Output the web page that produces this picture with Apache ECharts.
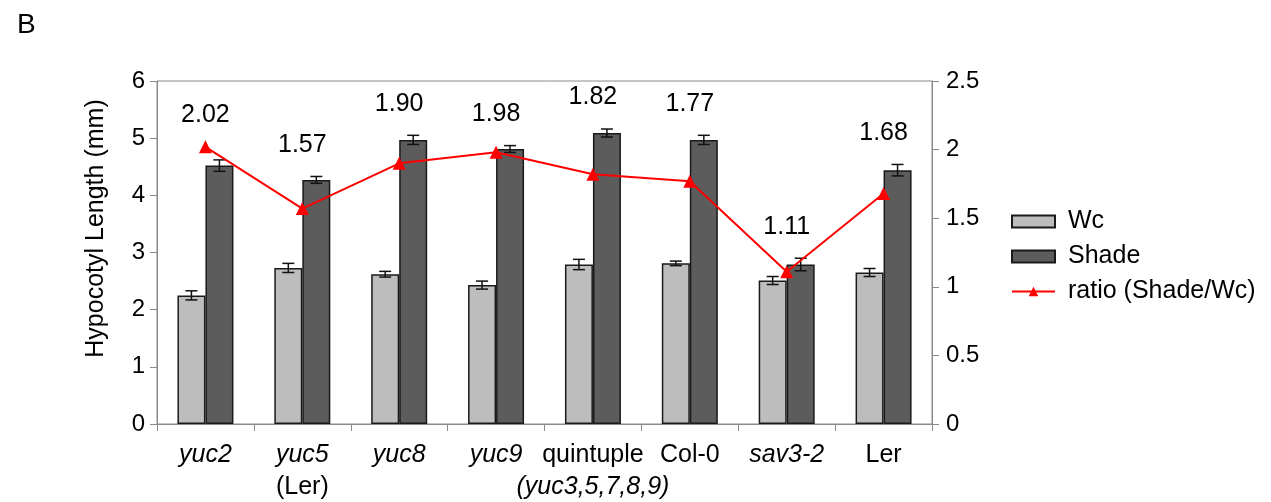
<!DOCTYPE html>
<html>
<head>
<meta charset="utf-8">
<script src="https://cdn.jsdelivr.net/npm/echarts@6/dist/echarts.min.js"></script>
<style>
  html, body { margin: 0; padding: 0; background: #fff; }
  #main { width: 1271px; height: 502px; }
</style>
</head>
<body>
<div id="main"></div>
<script>
// genotypes on the x axis (second line = subtitle)
var categories = ['yuc2', 'yuc5\n(Ler)', 'yuc8', 'yuc9', 'quintuple\n(yuc3,5,7,8,9)', 'Col-0', 'sav3-2', 'Ler'];

// hypocotyl length (mm) and error
var wcValues = [2.25, 2.73, 2.62, 2.43, 2.79, 2.81, 2.51, 2.65];
var wcErrors = [0.08, 0.08, 0.05, 0.07, 0.09, 0.04, 0.07, 0.07];
var shadeValues = [4.52, 4.27, 4.97, 4.81, 5.09, 4.97, 2.79, 4.44];
var shadeErrors = [0.10, 0.06, 0.08, 0.06, 0.07, 0.08, 0.11, 0.10];

// ratio Shade/Wc (right axis)
var ratioValues = [2.02, 1.57, 1.90, 1.98, 1.82, 1.77, 1.11, 1.68];

var leftTicks = { min: 0, max: 6, interval: 1 };
var rightTicks = { min: 0, max: 2.5, interval: 0.5 };

var FONT = 'Liberation Sans, Arial, sans-serif';
var BAR_W = 28;

function errData(vals, errs) {
  return vals.map(function (v, i) { return [i, v - errs[i], v + errs[i]]; });
}

function errRender(offset) {
  return function (params, api) {
    var lo = api.coord([api.value(0), api.value(1)]);
    var hi = api.coord([api.value(0), api.value(2)]);
    var x = lo[0] + offset;
    var cap = 6;
    var st = { stroke: '#111', lineWidth: 1.5 };
    return {
      type: 'group',
      children: [
        { type: 'line', shape: { x1: x, y1: lo[1], x2: x, y2: hi[1] }, style: st },
        { type: 'line', shape: { x1: x - cap, y1: lo[1], x2: x + cap, y2: lo[1] }, style: st },
        { type: 'line', shape: { x1: x - cap, y1: hi[1], x2: x + cap, y2: hi[1] }, style: st }
      ]
    };
  };
}

// the ratio numbers sit above whichever is higher: the shade bar or the ratio point
var scale = leftTicks.max / rightTicks.max;
var labelAnchors = ratioValues.map(function (r, i) {
  return [i, Math.max(shadeValues[i] + shadeErrors[i], r * scale)];
});

function isItalic(line) {
  return /^\(?(yuc|sav)/.test(line);
}

var chart = echarts.init(document.getElementById('main'));

var option = {
  animation: false,
  title: {
    text: 'B',
    left: 12,
    top: 6,
    textStyle: { fontFamily: FONT, fontSize: 28, fontWeight: 'normal', color: '#000' }
  },
  grid: {
    left: 157, right: 339, top: 81, bottom: 78,
    containLabel: false,
    show: true,
    borderColor: '#8a8a8a',
    borderWidth: 1
  },
  legend: {
    orient: 'vertical',
    left: 1006,
    top: 204,
    itemWidth: 43,
    itemHeight: 12,
    itemGap: 10,
    textStyle: { fontFamily: FONT, fontSize: 25, color: '#000', padding: [0, 0, 0, 8] },
    data: [
      { name: 'Wc', icon: 'rect' },
      { name: 'Shade', icon: 'rect' },
      { name: 'ratio (Shade/Wc)' }
    ]
  },
  xAxis: {
    type: 'category',
    data: categories,
    axisLine: { lineStyle: { color: '#8a8a8a', width: 1 } },
    axisTick: { show: true, length: 7, lineStyle: { color: '#8a8a8a' } },
    axisLabel: {
      interval: 0,
      margin: 15,
      formatter: function (v) {
        return v.split('\n').map(function (line) {
          return (isItalic(line) ? '{i|' : '{n|') + line + '}';
        }).join('\n');
      },
      rich: {
        i: { fontFamily: FONT, fontSize: 25, fontStyle: 'italic', color: '#000', lineHeight: 32 },
        n: { fontFamily: FONT, fontSize: 25, color: '#000', lineHeight: 32 }
      }
    }
  },
  yAxis: [
    {
      type: 'value',
      min: leftTicks.min, max: leftTicks.max, interval: leftTicks.interval,
      name: 'Hypocotyl Length (mm)',
      nameLocation: 'middle',
      nameGap: 48,
      nameTextStyle: { fontFamily: FONT, fontSize: 25, color: '#000', padding: [0, 0, 0, 48] },
      axisLine: { show: true, lineStyle: { color: '#8a8a8a' } },
      axisTick: { show: true, length: 7, lineStyle: { color: '#8a8a8a' } },
      axisLabel: { fontFamily: FONT, fontSize: 24, color: '#000', margin: 12 },
      splitLine: { show: false }
    },
    {
      type: 'value',
      min: rightTicks.min, max: rightTicks.max, interval: rightTicks.interval,
      axisLine: { show: true, lineStyle: { color: '#8a8a8a' } },
      axisTick: { show: true, length: 7, lineStyle: { color: '#8a8a8a' } },
      axisLabel: { fontFamily: FONT, fontSize: 24, color: '#000', margin: 14 },
      splitLine: { show: false }
    }
  ],
  series: [
    {
      name: 'Wc',
      type: 'bar',
      data: wcValues,
      barWidth: BAR_W,
      barGap: '0%',
      itemStyle: { color: '#bdbdbd', borderColor: '#1a1a1a', borderWidth: 1.5 }
    },
    {
      name: 'Shade',
      type: 'bar',
      data: shadeValues,
      barWidth: BAR_W,
      barGap: '0%',
      itemStyle: { color: '#5c5c5c', borderColor: '#1a1a1a', borderWidth: 1.5 }
    },
    {
      type: 'custom',
      renderItem: errRender(-BAR_W / 2),
      data: errData(wcValues, wcErrors),
      encode: { x: 0, y: [1, 2] },
      z: 5,
      silent: true
    },
    {
      type: 'custom',
      renderItem: errRender(BAR_W / 2),
      data: errData(shadeValues, shadeErrors),
      encode: { x: 0, y: [1, 2] },
      z: 5,
      silent: true
    },
    {
      name: 'ratio (Shade/Wc)',
      type: 'line',
      yAxisIndex: 1,
      data: ratioValues,
      symbol: 'triangle',
      symbolSize: 13,
      lineStyle: { color: '#ff0000', width: 2 },
      itemStyle: { color: '#ff0000' },
      z: 6
    },
    {
      type: 'scatter',
      data: labelAnchors,
      symbolSize: 0,
      silent: true,
      label: {
        show: true,
        position: 'top',
        distance: 19,
        fontFamily: FONT,
        fontSize: 25,
        color: '#000',
        opacity: 1,
        formatter: function (p) { return ratioValues[p.dataIndex].toFixed(2); }
      }
    }
  ]
};

chart.setOption(option);
</script>
</body>
</html>
